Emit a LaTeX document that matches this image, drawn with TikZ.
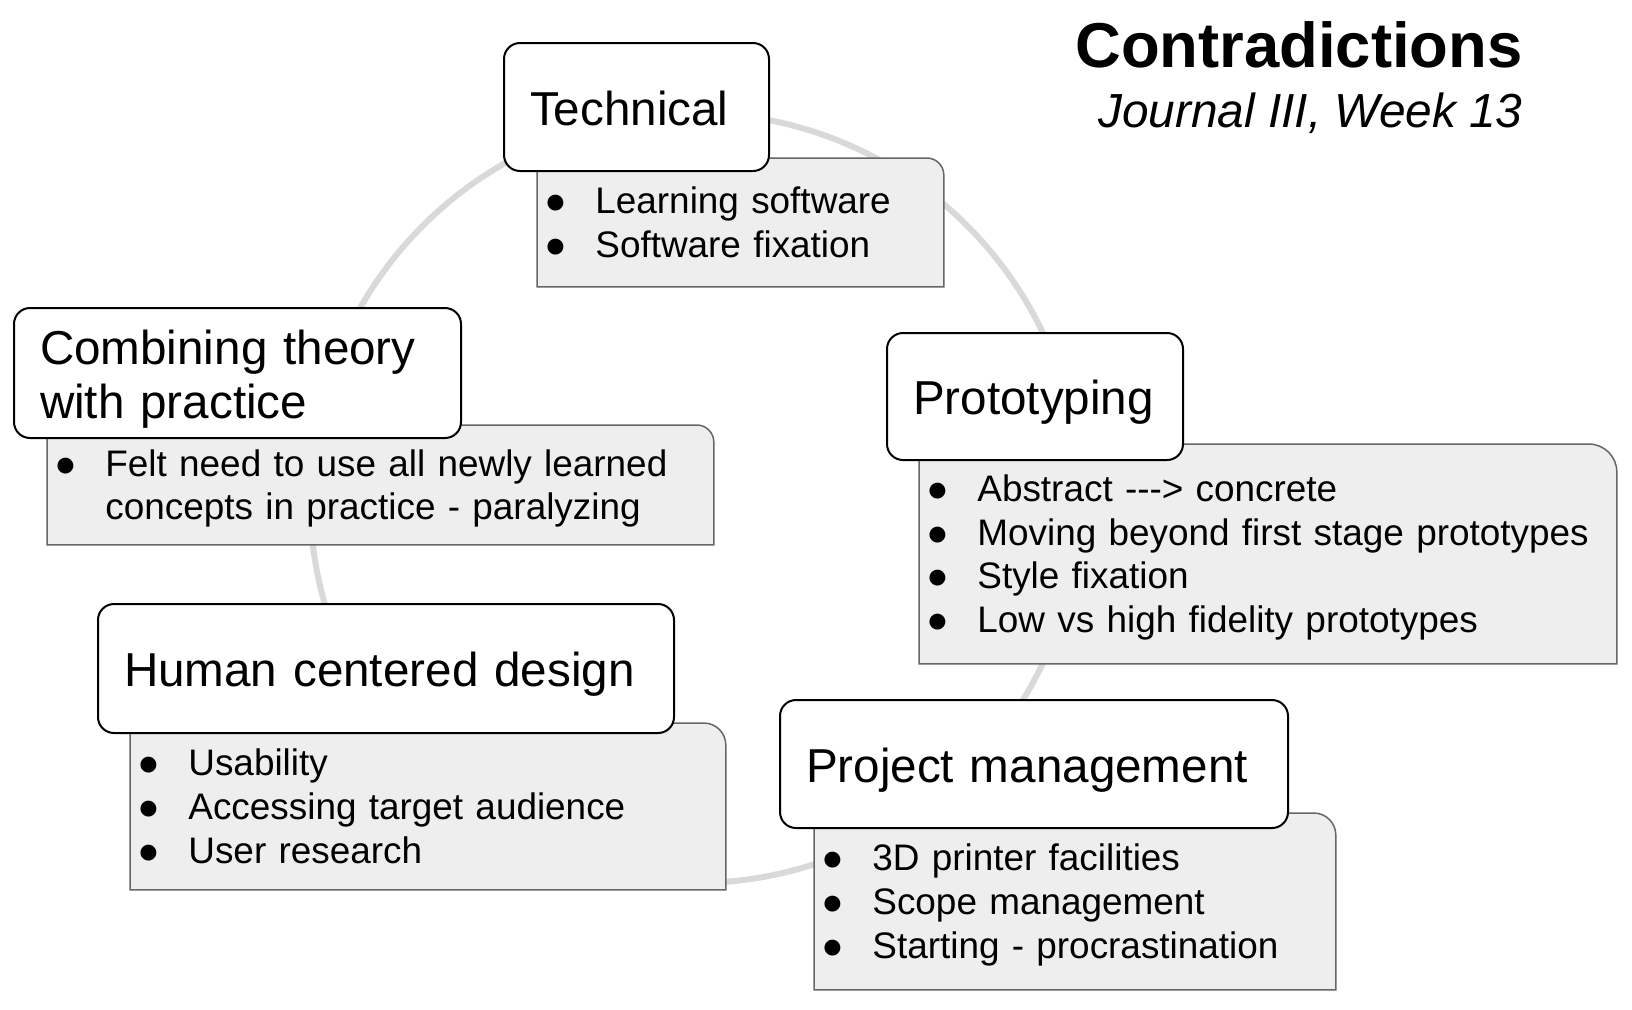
\documentclass[tikz,border=0pt]{standalone}
\usepackage{fontspec}
\setmainfont{Liberation Sans}
\definecolor{RingGray}{HTML}{D9D9D9}
\definecolor{CardFill}{HTML}{EEEEEE}
\definecolor{CardEdge}{HTML}{666666}
\usetikzlibrary{backgrounds}

\newcommand{\topicfont}{\fontsize{23.8pt}{27pt}\selectfont}
\newcommand{\notefont}{\fontsize{18.45pt}{21.85pt}\selectfont}
\newcommand{\itm}{\makebox[26pt][l]{\makebox[12pt]{●}}}
% grey card behind a note node, only the top right corner is rounded
\newcommand{\cardshape}[2]{\draw[card] (#1.south west) -- (#1.north west) -- ([xshift=-#2]#1.north east) arc[start angle=90, end angle=0, radius=#2] -- (#1.south east) -- cycle;}

\begin{document}
\begin{tikzpicture}[x=0.5pt, y=-0.5pt,
        topic/.style={rectangle, rounded corners=8pt, draw=black, line width=1pt, fill=white, anchor=north west, align=left, font=\topicfont, inner xsep=13pt, inner ysep=0pt, text height=18pt, text depth=#1},
        topic/.default=0pt,
        notes/.style={rectangle, anchor=north west, align=left, font=\notefont, inner xsep=3pt, inner ysep=0pt, text height=16pt, text depth=#1},
        card/.style={draw=CardEdge, fill=CardFill, line width=0.75pt},
        ring/.style={draw=RingGray, line width=3pt}
    ]
        \useasboundingbox (0,0) rectangle (1632,1009);
        \coordinate (hub) at (695,498);

        % Title
        \node[font=\fontsize{31.7pt}{36pt}\selectfont\bfseries, anchor=base east, inner sep=0pt] (title) at (1523,67) {Contradictions};
        \node[font=\fontsize{23.9pt}{28pt}\selectfont\itshape, anchor=base east, inner sep=0pt] (week) at (1523,127) {Journal III, Week 13};

        % Technical
        \node[notes=24.85pt, text width=197pt, minimum height=64pt] (techN) at (537,158) {\itm Learning software\\ \itm Software fixation};
        \node[topic, text width=106.5pt, minimum height=64pt] (tech) at (503,42) {Technical};

        % Combining theory with practice
        \node[notes=24.85pt, text width=327pt, minimum height=59.5pt] (theoryN) at (47,425) {\itm Felt need to use all newly learned\\ \hspace*{26pt}concepts in practice - paralyzing};
        \node[topic=27pt, text width=197.5pt, minimum height=65pt] (theory) at (13,307) {Combining theory\\with practice};

        % Prototyping
        \node[notes=68.55pt, text width=342.5pt, minimum height=109.5pt] (protoN) at (919,444) {\itm Abstract -{}-{}-> concrete\\ \itm Moving beyond first stage prototypes\\ \itm Style fixation\\ \itm Low vs high fidelity prototypes};
        \node[topic, text width=122pt, minimum height=63.5pt] (proto) at (886,332) {Prototyping};

        % Human centered design
        \node[notes=46.7pt, text width=291.5pt, minimum height=83pt] (humanN) at (130,723) {\itm Usability\\ \itm Accessing target audience\\ \itm User research};
        \node[topic, text width=262pt, minimum height=64.5pt] (human) at (97,603) {Human centered design};

        % Project management
        \node[notes=46.7pt, text width=254.5pt, minimum height=88pt] (projN) at (814,813) {\itm 3D printer facilities\\ \itm Scope management\\ \itm Starting - procrastination};
        \node[topic, text width=228pt, minimum height=64pt] (proj) at (779,699) {Project management};

        % ring and cards go under the nodes
        \begin{scope}[on background layer]
            \draw[ring] (hub) circle[radius=192.5pt];
            \cardshape{techN}{8.5pt}
            \cardshape{theoryN}{8.5pt}
            \cardshape{protoN}{14pt}
            \cardshape{humanN}{11pt}
            \cardshape{projN}{11pt}
        \end{scope}
    \end{tikzpicture}
\end{document}
